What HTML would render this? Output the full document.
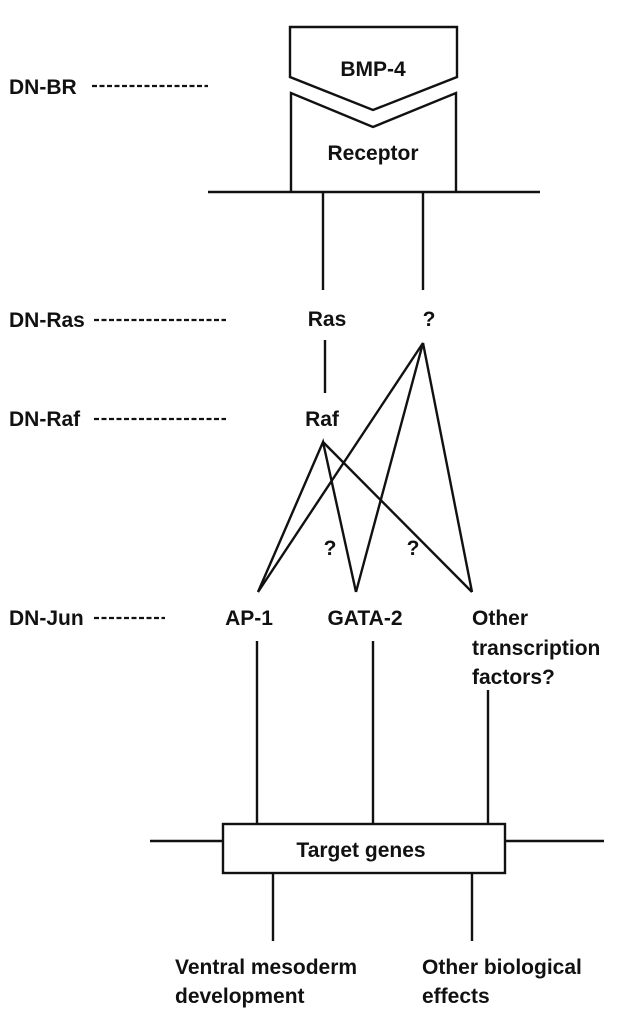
<!DOCTYPE html>
<html><head><meta charset="utf-8"><style>
body{margin:0;background:#fff;}
svg text{font-family:"Liberation Sans",sans-serif;font-weight:bold;font-size:21px;fill:#111;}
</style></head><body>
<svg width="629" height="1018" viewBox="0 0 629 1018" xmlns="http://www.w3.org/2000/svg">
<g stroke="#111" stroke-width="2.4" fill="none">
<polygon points="290,27 457,27 457,77 373,110 290,77"/>
<polyline points="291,192 291,93 373,127 456,93 456,192"/>
<line x1="208" y1="192" x2="540" y2="192"/>
<line x1="323" y1="192" x2="323" y2="290"/>
<line x1="423" y1="192" x2="423" y2="290"/>
<line x1="325" y1="340" x2="325" y2="393"/>
<polyline points="258,592 323,442 356,592"/>
<line x1="323" y1="442" x2="472" y2="592"/>
<polyline points="258,592 423,343 356,592"/>
<line x1="423" y1="343" x2="472" y2="592"/>
<line x1="257" y1="641" x2="257" y2="824"/>
<line x1="373" y1="641" x2="373" y2="824"/>
<line x1="488" y1="690" x2="488" y2="824"/>
<rect x="223" y="824" width="282" height="49"/>
<line x1="150" y1="841" x2="223" y2="841"/>
<line x1="505" y1="841" x2="604" y2="841"/>
<line x1="273" y1="873" x2="273" y2="941"/>
<line x1="472" y1="873" x2="472" y2="941"/>
</g>
<g stroke="#111" stroke-width="2.2" stroke-dasharray="5,2.5">
<line x1="92" y1="86" x2="208" y2="86"/>
<line x1="94" y1="320" x2="226" y2="320"/>
<line x1="94" y1="419" x2="226" y2="419"/>
<line x1="94" y1="618" x2="165" y2="618"/>
</g>
<text x="373" y="76" text-anchor="middle">BMP-4</text>
<text x="373" y="160" text-anchor="middle">Receptor</text>
<text x="9" y="94">DN-BR</text>
<text x="9" y="327">DN-Ras</text>
<text x="9" y="426">DN-Raf</text>
<text x="9" y="625">DN-Jun</text>
<text x="327" y="326" text-anchor="middle">Ras</text>
<text x="429" y="326" text-anchor="middle">?</text>
<text x="322" y="426" text-anchor="middle">Raf</text>
<text x="330" y="555" text-anchor="middle">?</text>
<text x="413" y="555" text-anchor="middle">?</text>
<text x="249" y="625" text-anchor="middle">AP-1</text>
<text x="365" y="625" text-anchor="middle">GATA-2</text>
<text x="472" y="625">Other</text>
<text x="472" y="655">transcription</text>
<text x="472" y="684">factors?</text>
<text x="361" y="857" text-anchor="middle">Target genes</text>
<text x="175" y="974">Ventral mesoderm</text>
<text x="175" y="1003">development</text>
<text x="422" y="974">Other biological</text>
<text x="422" y="1003">effects</text>
</svg>
</body></html>
